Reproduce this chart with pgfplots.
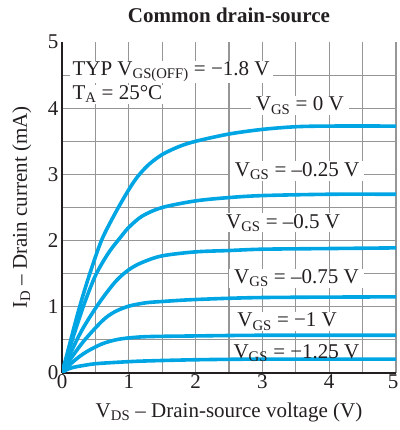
\documentclass[border=0pt]{standalone}
\usepackage{pgfplots}
\pgfplotsset{compat=1.18}
\usepackage{fontspec}
\setmainfont{Liberation Serif}
\definecolor{curve}{RGB}{0,166,228}
\definecolor{gridc}{RGB}{150,150,150}
\definecolor{txt}{RGB}{35,31,32}
\newcommand{\lab}[3]{%
 \node[on layer=pre main, fill=white, inner xsep=5pt, inner ysep=1pt] at (axis cs:#1,#2) {\phantom{#3}};
 \node[inner xsep=5pt, inner ysep=1pt, text=txt] at (axis cs:#1,#2) {#3};}
\newcommand{\labw}[3]{%
 \node[on layer=pre main, anchor=west, fill=white, inner xsep=3pt, inner ysep=1pt] at (axis cs:#1,#2) {\phantom{#3}};
 \node[anchor=west, inner xsep=3pt, inner ysep=1pt, text=txt] at (axis cs:#1,#2) {#3};}
\pgfplotsset{jf/.style={curve, line width=3.6pt, smooth, tension=0.5, no markers, solid}}
\begin{document}
\begin{tikzpicture}[font=\fontsize{21}{25}\selectfont]
\begin{axis}[
 set layers,
 scale only axis, width=334pt, height=331pt,
 at={(62pt,57pt)}, anchor=south west,
 xmin=0,xmax=5,ymin=0,ymax=5,
 axis lines*=left,
 axis line style={line width=1.8pt, txt},
 xtick={0,...,4}, ytick={0,...,4},
 extra x ticks={5}, extra x tick style={xticklabel style={xshift=-3pt}},
 extra y ticks={5}, extra y tick style={grid=none},
 minor xtick={0.5,1.5,...,4.5}, minor ytick={0.5,1.5,...,4.5},
 grid=both,
 major grid style={gridc, line width=1.1pt},
 minor grid style={gridc, line width=1.1pt},
 major tick length=0pt, minor tick length=0pt,
 tick label style={/pgf/number format/assume math mode=true, text=txt},
 xticklabel style={yshift=2pt},
 title={\bfseries Common drain-source},
 title style={at={(axis description cs:0.5,1.062)}, anchor=center, text=txt},
 xlabel={V\textsubscript{DS} – Drain-source voltage (V)},
 xlabel style={at={(axis description cs:0.5,-0.118)}, anchor=center, text=txt},
 ylabel={I\textsubscript{D} – Drain current (mA)},
 ylabel style={at={(axis description cs:-0.12,0.5)}, anchor=center, rotate=0, text=txt},
]
% VGS = 0 V
\addplot[jf] coordinates {(0,0) (0.1,0.38) (0.25,0.95) (0.4,1.45) (0.59,2.0) (0.8,2.42) (1.0,2.77) (1.135,2.97) (1.3,3.15) (1.5,3.30) (1.75,3.42) (2.0,3.50) (2.5,3.61) (3,3.68) (3.5,3.72) (4,3.73) (5,3.73)};
% VGS = -0.25 V
\addplot[jf] coordinates {(0,0) (0.1,0.33) (0.31,0.98) (0.5,1.47) (0.7,1.82) (0.9,2.08) (1.0,2.20) (1.2,2.37) (1.5,2.50) (2.0,2.60) (2.5,2.65) (3,2.68) (4,2.70) (5,2.70)};
% VGS = -0.5 V
\addplot[jf] coordinates {(0,0) (0.1,0.24) (0.3,0.65) (0.55,1.05) (0.8,1.38) (1.0,1.56) (1.2,1.67) (1.5,1.77) (2.0,1.83) (2.5,1.85) (3,1.87) (4,1.88) (5,1.89)};
% VGS = -0.75 V
\addplot[jf] coordinates {(0,0) (0.1,0.17) (0.3,0.45) (0.5,0.68) (0.65,0.83) (0.8,0.93) (1.0,1.01) (1.25,1.06) (1.5,1.08) (2.0,1.11) (3,1.14) (5,1.15)};
% VGS = -1 V
\addplot[jf] coordinates {(0,0) (0.1,0.11) (0.25,0.24) (0.4,0.34) (0.6,0.44) (0.8,0.50) (1.0,0.53) (1.3,0.55) (2,0.56) (3,0.57) (5,0.57)};
% VGS = -1.25 V
\addplot[jf] coordinates {(0,0) (0.05,0.04) (0.15,0.08) (0.3,0.11) (0.5,0.14) (0.8,0.16) (1.2,0.18) (2,0.20) (3,0.21) (5,0.21)};
\labw{0.11}{4.55}{TYP V\textsubscript{GS(OFF)} = −1.8 V}
\labw{0.11}{4.21}{T\textsubscript{A} = 25°C}
\lab{3.56}{4.04}{V\textsubscript{GS} = 0 V}
\lab{3.52}{3.05}{V\textsubscript{GS} = –0.25 V}
\lab{3.31}{2.27}{V\textsubscript{GS} = –0.5 V}
\lab{3.51}{1.43}{V\textsubscript{GS} = –0.75 V}
\lab{3.37}{0.775}{V\textsubscript{GS} = −1 V}
\node[inner xsep=5pt, inner ysep=1pt, text=txt] at (axis cs:3.51,0.30) {V\textsubscript{GS} = −1.25 V};
\end{axis}
\pgfresetboundingbox
\path[use as bounding box] (0,0) rectangle (399pt,430pt);
\end{tikzpicture}
\end{document}
